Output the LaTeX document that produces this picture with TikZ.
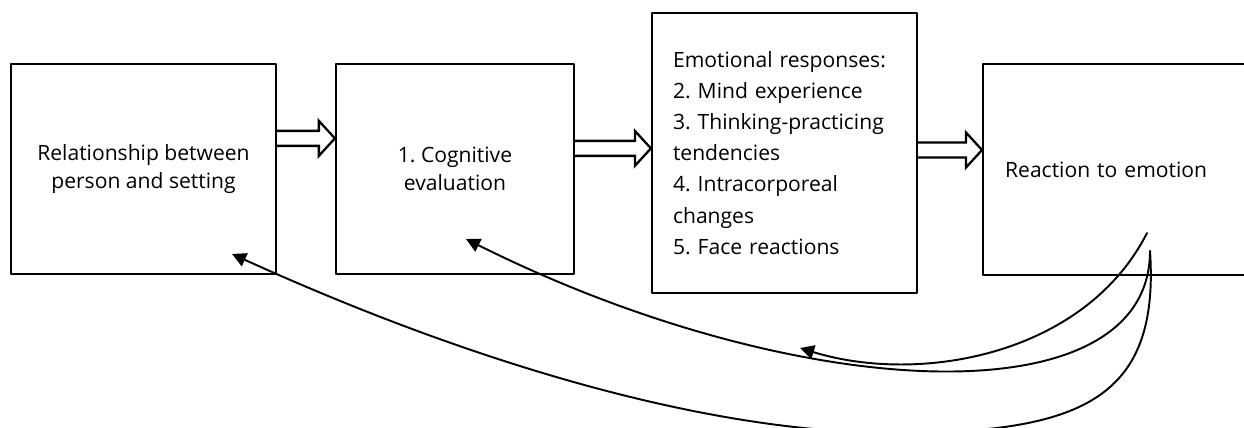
\documentclass[tikz,border=0pt]{standalone}
\usepackage{fontspec}
\setmainfont{Open Sans}
\frenchspacing
\usetikzlibrary{calc,arrows.meta}
\tikzset{
	stage/.style={draw,line width=1.3pt,inner sep=0pt},
	hollow/.style={draw,line width=1.3pt,fill=white,line join=miter},
	feedback/.style={line width=1.1pt,-{Triangle[length=8pt,width=8pt]}}
}
% hollow block arrow from #1 to the tip #2 (pixel units)
\newcommand{\hollowarrow}[2]{%
	\draw[hollow] ($(#1)+(0,-7.5)$) -- ($(#2)+(-16,-7.5)$) -- ($(#2)+(-16,-17.5)$)
	-- (#2) -- ($(#2)+(-16,17.5)$) -- ($(#2)+(-16,7.5)$) -- ($(#1)+(0,7.5)$);}
\begin{document}
\begin{tikzpicture}[x=0.02cm,y=-0.02cm,line join=round,line cap=round]
	\clip (0,0) rectangle (1244,428);
	\node[stage,minimum width=5.3cm,minimum height=4.2cm,align=center,font=\fontsize{12}{16}\selectfont]
	(rel) at (143.5,169) {Relationship between\\person and setting};
	\node[stage,minimum width=4.76cm,minimum height=4.2cm,align=center,font=\fontsize{12}{16}\selectfont]
	(cog) at (455,169) {1. Cognitive\\evaluation};
	\node[stage,minimum width=5.3cm,minimum height=5.6cm,text width=4.46cm,align=left,font=\fontsize{12}{17.7}\selectfont]
	(emo) at (784.5,153) {Emotional responses:\\2. Mind experience\\3. Thinking-practicing\\tendencies\\4. Intracorporeal\\changes\\5. Face reactions};
	\node[stage,anchor=west,minimum width=6.2cm,minimum height=4.22cm,text width=5.32cm,align=left,font=\fontsize{12}{16}\selectfont]
	(react) at (982,169.5) {Reaction to emotion};
	\path (rel.north east) ++(0,75.5) coordinate (a1);
	\path (cog.north east) ++(0,85.5) coordinate (a2);
	\path (emo.east) ++(0,-3) coordinate (a3);
	\hollowarrow{a1}{a1 -| cog.west}
	\hollowarrow{a2}{a2 -| emo.west}
	\hollowarrow{a3}{a3 -| react.west}
	\coordinate (back1) at (1147,233);
	\coordinate (back2) at (1150,251);
	\coordinate (loose) at (800,348);
	\coordinate (cogin) at (466,239);
	\coordinate (relin) at (232,254);
	\draw[feedback] (back1) .. controls (1085,355) and (920,385) .. (loose);
	\draw[feedback] (back2) .. controls (1150,421) and (796,404) .. (cogin);
	\draw[feedback] (back2) .. controls (1160,400) and (1080,433) .. (895,433)
	.. controls (695,433) and (452,354) .. (relin);
\end{tikzpicture}
\end{document}
